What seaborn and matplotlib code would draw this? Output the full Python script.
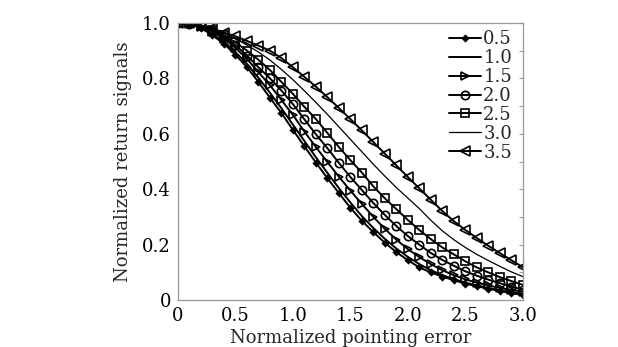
import numpy as np
import pandas as pd
import matplotlib
matplotlib.use('Agg')
import matplotlib.pyplot as plt
import seaborn as sns
from matplotlib.ticker import MultipleLocator

# normalized pointing error, 0..3.0 step 0.1
x = [round(0.1 * i, 1) for i in range(31)]

# curves
s05 = [1.0, 0.996, 0.982, 0.955, 0.925, 0.885, 0.84, 0.787, 0.73, 0.675, 0.614,
       0.555, 0.496, 0.44, 0.386, 0.333, 0.286, 0.245, 0.207, 0.173, 0.144,
       0.118, 0.1, 0.085, 0.072, 0.06, 0.05, 0.041, 0.033, 0.025, 0.019]
s10 = [1.0, 0.996, 0.984, 0.96, 0.932, 0.895, 0.852, 0.802, 0.748, 0.692, 0.633,
       0.574, 0.515, 0.459, 0.404, 0.352, 0.303, 0.26, 0.221, 0.186, 0.156,
       0.13, 0.108, 0.09, 0.076, 0.063, 0.053, 0.044, 0.036, 0.029, 0.023]
s15 = [1.0, 0.997, 0.986, 0.968, 0.943, 0.91, 0.87, 0.822, 0.775, 0.722, 0.668,
       0.608, 0.552, 0.498, 0.445, 0.395, 0.347, 0.30, 0.257, 0.218, 0.184,
       0.155, 0.13, 0.108, 0.09, 0.075, 0.063, 0.053, 0.044, 0.037, 0.031]
s20 = [1.0, 0.997, 0.988, 0.972, 0.95, 0.92, 0.882, 0.84, 0.80, 0.756, 0.707,
       0.652, 0.598, 0.548, 0.495, 0.444, 0.397, 0.35, 0.307, 0.267, 0.231,
       0.2, 0.17, 0.145, 0.124, 0.104, 0.088, 0.074, 0.061, 0.049, 0.038]
s25 = [1.0, 0.998, 0.99, 0.975, 0.955, 0.93, 0.90, 0.867, 0.83, 0.787, 0.744,
       0.697, 0.653, 0.603, 0.552, 0.505, 0.46, 0.41, 0.367, 0.328, 0.289,
       0.253, 0.22, 0.19, 0.165, 0.14, 0.118, 0.1, 0.083, 0.069, 0.055]
s30 = [1.0, 0.998, 0.99, 0.978, 0.962, 0.943, 0.92, 0.895, 0.866, 0.832, 0.795,
       0.755, 0.713, 0.67, 0.625, 0.58, 0.535, 0.49, 0.447, 0.406, 0.368,
       0.33, 0.288, 0.25, 0.218, 0.19, 0.165, 0.143, 0.122, 0.102, 0.085]
s35 = [1.0, 0.998, 0.99, 0.98, 0.965, 0.952, 0.935, 0.918, 0.90, 0.873, 0.84,
       0.805, 0.77, 0.732, 0.693, 0.653, 0.612, 0.57, 0.528, 0.486, 0.444,
       0.403, 0.362, 0.321, 0.285, 0.253, 0.224, 0.196, 0.17, 0.144, 0.119]

labels = ['0.5', '1.0', '1.5', '2.0', '2.5', '3.0', '3.5']
series = [s05, s10, s15, s20, s25, s30, s35]
xticks = [0, 0.5, 1.0, 1.5, 2.0, 2.5, 3.0]
xtick_labels = ['0', '0.5', '1.0', '1.5', '2.0', '2.5', '3.0']
yticks = [0, 0.2, 0.4, 0.6, 0.8, 1.0]
ytick_labels = ['0', '0.2', '0.4', '0.6', '0.8', '1.0']

sns.set_style('white')
plt.rcParams['font.family'] = ['DejaVu Serif']

fig = plt.figure(figsize=(6.18, 3.47), dpi=100)
ax = fig.add_axes([0.288, 0.135, 0.558, 0.799])

# marker / line width per curve
styles = {
    '0.5': dict(marker='D', markersize=3, markerfacecolor='black', lw=1.4),
    '1.0': dict(marker=None, lw=1.4),
    '1.5': dict(marker='>', markersize=6, markerfacecolor='none', lw=1.4),
    '2.0': dict(marker='o', markersize=6, markerfacecolor='none', lw=1.4),
    '2.5': dict(marker='s', markersize=6, markerfacecolor='none', lw=1.4),
    '3.0': dict(marker=None, lw=0.9),
    '3.5': dict(marker='<', markersize=6.5, markerfacecolor='none', lw=1.4),
}

for lab, vals in zip(labels, series):
    sns.lineplot(x=x, y=vals, ax=ax, color='black', label=lab,
                 markeredgecolor='black', markeredgewidth=1.2, **styles[lab])

ax.set_xlim(0, 3.0)
ax.set_ylim(0, 1.0)
ax.set_xticks(xticks)
ax.set_xticklabels(xtick_labels)
ax.set_yticks(yticks)
ax.set_yticklabels(ytick_labels)
ax.yaxis.set_minor_locator(MultipleLocator(0.1))
ax.tick_params(axis='both', which='both', direction='in', colors='#999999',
               labelcolor='black', labelsize=13, right=True, top=False,
               length=3, width=0.8, pad=5)
for sp in ax.spines.values():
    sp.set_color('#999999')
    sp.set_linewidth(0.9)

ax.set_xlabel('Normalized pointing error', fontsize=13, labelpad=3)
ax.set_ylabel('Normalized return signals', fontsize=13, labelpad=7)

ax.legend(loc='upper right', frameon=False, fontsize=13, handlelength=1.8,
          handletextpad=0.1, labelspacing=0.05, borderaxespad=0.0,
          bbox_to_anchor=(0.99, 1.0))

fig.savefig('out.png', dpi=100)
